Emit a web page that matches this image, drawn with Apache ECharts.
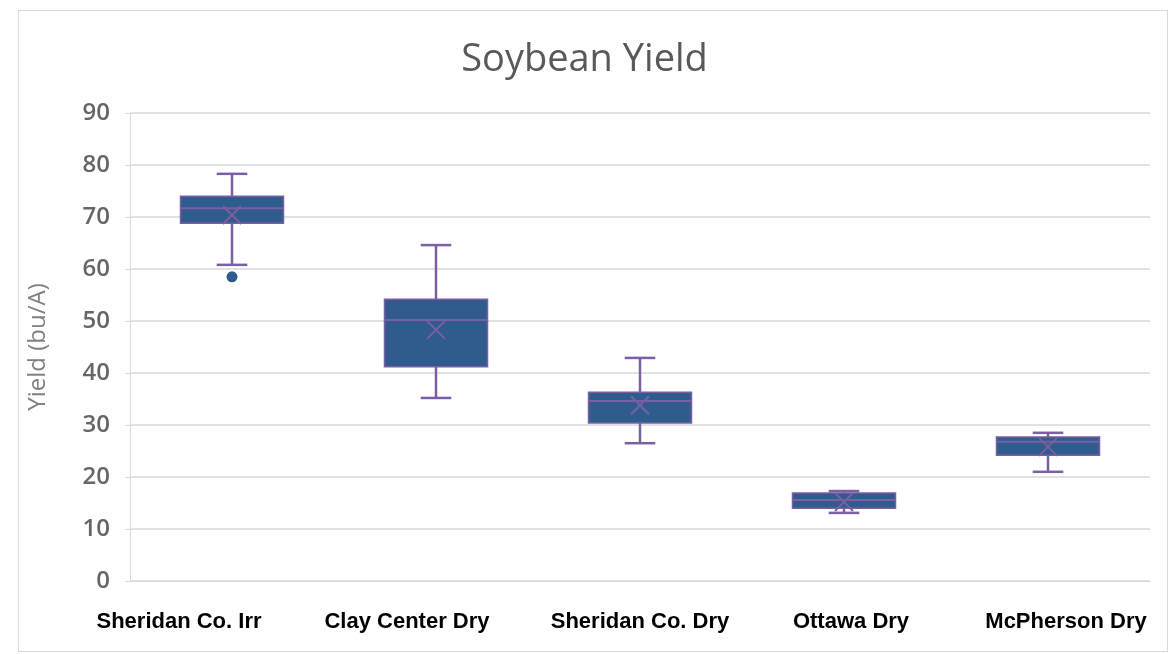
<!DOCTYPE html>
<html>
<head>
<meta charset="utf-8">
<script src="https://cdn.jsdelivr.net/npm/echarts@6/dist/echarts.min.js"></script>
<style>
html,body{margin:0;padding:0;background:#fff;}
#frame{position:absolute;left:18px;top:10px;width:1150px;height:642px;border:1px solid #d9d9d9;box-sizing:border-box;}
#chart{position:absolute;left:0;top:0;width:1169px;height:654px;}
</style>
</head>
<body>
<div id="frame"></div>
<div id="chart"></div>
<script>
const categories = ['Sheridan Co. Irr', 'Clay Center Dry', 'Sheridan Co. Dry', 'Ottawa Dry', 'McPherson Dry'];
const whiskerLow  = [60.8, 35.2, 26.5, 13.1, 21.0];
const q1          = [68.8, 41.2, 30.4, 14.0, 24.2];
const median      = [71.7, 50.2, 34.6, 15.6, 26.8];
const q3          = [74.0, 54.2, 36.3, 16.9, 27.7];
const whiskerHigh = [78.3, 64.6, 42.9, 17.3, 28.5];
const means       = [70.4, 48.3, 33.8, 15.2, 25.8];
const outliers    = [[0, 58.5]];
const yTicks = [0, 10, 20, 30, 40, 50, 60, 70, 80, 90];

// label horizontal shifts (styling, px) to mimic reference label placement
const labelShift = [-53, -29, 0, 7, 18];

const boxFill = '#2f5c8c';
const purple = '#7b5ea3';

const boxData = categories.map((c, i) => [i, whiskerLow[i], q1[i], median[i], q3[i], whiskerHigh[i], means[i]]);

function renderItem(params, api) {
  const x = api.value(0);
  const band = api.size([1, 0])[0];
  const bw = band * 0.505, cw = band * 0.15;
  const p = k => api.coord([x, api.value(k)]);
  const lo = p(1), a = p(2), m = p(3), b = p(4), hi = p(5), mn = p(6);
  const cx = lo[0];
  const ls = { stroke: purple, lineWidth: 2.5 };
  const line = (x1, y1, x2, y2, st) => ({ type: 'line', shape: { x1, y1, x2, y2 }, style: st || ls });
  const xs = 9;
  return {
    type: 'group',
    children: [
      line(cx, hi[1], cx, b[1]),
      line(cx, a[1], cx, lo[1]),
      line(cx - cw / 2, hi[1], cx + cw / 2, hi[1]),
      line(cx - cw / 2, lo[1], cx + cw / 2, lo[1]),
      { type: 'rect', shape: { x: cx - bw / 2, y: b[1], width: bw, height: a[1] - b[1] },
        style: { fill: boxFill, stroke: purple, lineWidth: 1.5 } },
      line(cx - bw / 2, m[1], cx + bw / 2, m[1], { stroke: purple, lineWidth: 2 }),
      line(cx - xs, mn[1] - xs, cx + xs, mn[1] + xs, { stroke: purple, lineWidth: 2 }),
      line(cx - xs, mn[1] + xs, cx + xs, mn[1] - xs, { stroke: purple, lineWidth: 2 })
    ]
  };
}

const labelFont = { color: '#000', fontWeight: 'bold', fontSize: 22, fontFamily: "'Liberation Sans', sans-serif" };
const rich = {};
labelShift.forEach((s, i) => {
  rich['l' + i] = Object.assign({}, labelFont, { padding: s < 0 ? [0, -2 * s, 0, 0] : [0, 0, 0, 2 * s] });
});

const chart = echarts.init(document.getElementById('chart'), null, { renderer: 'canvas' });
chart.setOption({
  backgroundColor: 'transparent',
  animation: false,
  title: {
    text: 'Soybean Yield', left: 'center', top: 36,
    textStyle: { fontFamily: 'Open Sans', fontSize: 38, fontWeight: 'normal', color: '#595959' }
  },
  grid: { left: 130, right: 19, top: 113, bottom: 73 },
  xAxis: {
    type: 'category', data: categories,
    axisLine: { show: true, lineStyle: { color: '#d9d9d9', width: 1 } },
    axisTick: { show: false },
    axisLabel: Object.assign({ margin: 30, interval: 0, rich,
      formatter: (v, i) => '{l' + i + '|' + v + '}' }, labelFont)
  },
  yAxis: {
    type: 'value', min: 0, max: 90, interval: 10,
    name: 'Yield (bu/A)', nameLocation: 'middle', nameGap: 80,
    nameTextStyle: { color: '#808080', fontSize: 24, fontFamily: 'Open Sans' },
    axisLine: { show: true, lineStyle: { color: '#d9d9d9' } },
    axisTick: { show: true, length: 5, lineStyle: { color: '#d9d9d9' } },
    splitLine: { lineStyle: { color: '#d9d9d9', width: 1.5 } },
    axisLabel: { margin: 20, color: '#666', fontSize: 24, fontWeight: 600, fontFamily: 'Open Sans',
      formatter: v => yTicks.includes(v) ? String(v) : '' }
  },
  series: [
    { type: 'custom', renderItem, data: boxData, encode: { x: 0, y: [1, 2, 3, 4, 5] }, z: 2 },
    { type: 'scatter', data: outliers, symbolSize: 11, itemStyle: { color: boxFill, opacity: 1 }, z: 3 }
  ]
});
</script>
</body>
</html>
